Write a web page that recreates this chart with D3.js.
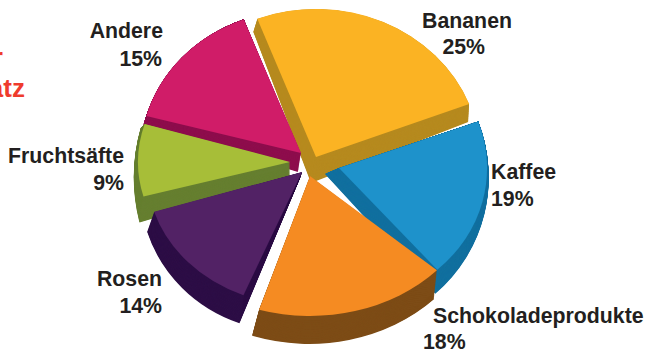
<!DOCTYPE html>
<html lang="de">
<head>
<meta charset="utf-8">
<script src="https://cdn.jsdelivr.net/npm/d3@7"></script>
<style>
  html, body { margin: 0; background: #fff; }
  svg { display: block; }
  text { font-family: "Liberation Sans", Arial, sans-serif; font-weight: 700; fill: #231f20; font-size: 21.3px; }
</style>
</head>
<body>
<svg id="chart" width="655" height="349"></svg>
<script>
// Sales share by product group
const categories = ["Bananen", "Kaffee", "Schokoladeprodukte", "Rosen", "Fruchtsäfte", "Andere"];
const shares = [25, 19, 18, 14, 9, 15];

// Colours of the top faces and of the extruded walls
const faceColors = ["#fbb323", "#1e92cb", "#f58b22", "#522265", "#a7be38", "#d01c68"];
const wallColors = ["#b68a1f", "#12709f", "#7d4c16", "#2d0e46", "#667f30", "#8e0e4d"];

// Exploded slice geometry: apex, elliptical radii, small rotation in degrees
const apexes = [[316, 157], [339, 168], [310, 176], [302, 172], [290, 162], [301, 153]];
const radii = [[164, 148], [148, 136], [172, 140], [155, 133], [152, 130], [160, 143]];
const twist = [0, 1, -5, 0, 2, 0];

// Extrusion offsets at the apex and at both rim corners of each slice
const depthApex = [[-5, 26], [-14, 6], [0, 20], [-2, 6], [0, 16], [-3, 19]];
const depthStart = [[-4, 13], [0, 0], [-3, 29], [-4, 28], [-4, 26], [-3, 9]];
const depthEnd = [[-1, 18], [-2, 24], [-7, 26], [-7, 20], [-4, 4], [0, 0]];

// Painting order, back to front
const paintOrder = [0, 5, 4, 3, 1, 2];

// Label placement
const labelLines = [
  { i: 0, x: 512, y: 28, anchor: "end" },
  { i: 1, x: 491, y: 179, anchor: "start" },
  { i: 2, x: 433, y: 323, anchor: "start" },
  { i: 3, x: 162, y: 286, anchor: "end" },
  { i: 4, x: 124, y: 163, anchor: "end" },
  { i: 5, x: 163, y: 38, anchor: "end" }
];
const valueLabels = [
  { i: 0, x: 485, y: 54, anchor: "end" },
  { i: 1, x: 491, y: 206, anchor: "start" },
  { i: 2, x: 423, y: 349, anchor: "start" },
  { i: 3, x: 162, y: 313, anchor: "end" },
  { i: 4, x: 124, y: 190, anchor: "end" },
  { i: 5, x: 162, y: 66, anchor: "end" }
];

const titleLines = [
  { text: "der", x: 3, y: 66 },
  { text: "Umsatz", x: 25, y: 97 }
];

const svg = d3.select("#chart");
const toRad = Math.PI / 180;

const pie = d3.pie().sort(null)
  .startAngle(-21 * toRad)
  .endAngle(339 * toRad);
const arcs = pie(shares);
const unitArc = d3.arc().innerRadius(0).outerRadius(1);

// Linear map sending both rim corners to their extruded positions
function extrusionMap(i, a0, a1) {
  const [rx, ry] = radii[i];
  const p = [rx * Math.sin(a0), -ry * Math.cos(a0)];
  const q = [rx * Math.sin(a1), -ry * Math.cos(a1)];
  const P = [p[0] + depthStart[i][0] - depthApex[i][0], p[1] + depthStart[i][1] - depthApex[i][1]];
  const Q = [q[0] + depthEnd[i][0] - depthApex[i][0], q[1] + depthEnd[i][1] - depthApex[i][1]];
  const det = p[0] * q[1] - p[1] * q[0];
  return {
    a: (P[0] * q[1] - Q[0] * p[1]) / det,
    c: (Q[0] * p[0] - P[0] * q[0]) / det,
    b: (P[1] * q[1] - Q[1] * p[1]) / det,
    d: (Q[1] * p[0] - P[1] * q[0]) / det
  };
}

const wallSteps = d3.range(40, 0, -1).map(s => s / 40);

paintOrder.forEach(i => {
  const turn = twist[i] * toRad;
  const a0 = arcs[i].startAngle + turn;
  const a1 = arcs[i].endAngle + turn;
  const d = unitArc({ startAngle: a0, endAngle: a1 });
  const [ax, ay] = apexes[i];
  const [rx, ry] = radii[i];
  const m = extrusionMap(i, a0, a1);
  const g = svg.append("g").attr("class", "slice");

  g.selectAll("path.wall").data(wallSteps).join("path")
    .attr("class", "wall")
    .attr("d", d)
    .attr("fill", wallColors[i])
    .attr("transform", u => {
      const A = 1 + u * (m.a - 1), B = u * m.b, C = u * m.c, D = 1 + u * (m.d - 1);
      return `matrix(${A * rx} ${B * rx} ${C * ry} ${D * ry} ${ax + u * depthApex[i][0]} ${ay + u * depthApex[i][1]})`;
    });

  g.append("path")
    .attr("class", "face")
    .attr("d", d)
    .attr("fill", faceColors[i])
    .attr("transform", `translate(${ax},${ay}) scale(${rx},${ry})`);
});

svg.selectAll("text.name").data(labelLines).join("text")
  .attr("class", "name")
  .attr("x", l => l.x).attr("y", l => l.y)
  .attr("text-anchor", l => l.anchor)
  .text(l => categories[l.i]);

svg.selectAll("text.share").data(valueLabels).join("text")
  .attr("class", "share")
  .attr("x", l => l.x).attr("y", l => l.y)
  .attr("text-anchor", l => l.anchor)
  .text(l => `${shares[l.i]}%`);

svg.selectAll("text.title").data(titleLines).join("text")
  .attr("class", "title")
  .attr("x", l => l.x).attr("y", l => l.y)
  .attr("text-anchor", "end")
  .style("fill", "#ef3b2d")
  .style("font-size", "26px")
  .text(l => l.text);
</script>
</body>
</html>
